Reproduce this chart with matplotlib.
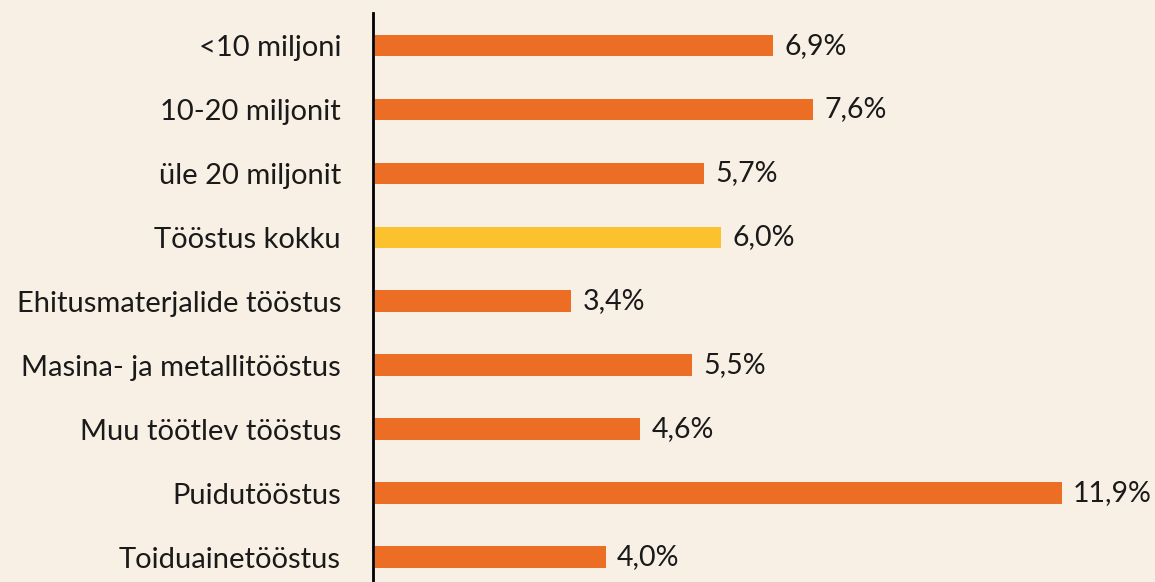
import matplotlib.pyplot as plt

categories = ["<10 miljoni", "10-20 miljonit", "üle 20 miljonit", "Tööstus kokku",
              "Ehitusmaterjalide tööstus", "Masina- ja metallitööstus",
              "Muu töötlev tööstus", "Puidutööstus", "Toiduainetööstus"]
values = [6.9, 7.6, 5.7, 6.0, 3.4, 5.5, 4.6, 11.9, 4.0]
highlight = "Tööstus kokku"

bg = "#F8EFE5"
orange = "#EC6E25"
yellow = "#FBC22E"

plt.rcParams['font.family'] = ['Lato', 'DejaVu Sans']

fig = plt.figure(figsize=(11.55, 5.82), dpi=100, facecolor=bg)
ax = fig.add_axes([373 / 1155, 0, 1 - 373 / 1155, 1 - 13 / 582])
ax.set_facecolor(bg)

n = len(categories)
ypos = [n - 1 - i for i in range(n)]
colors = [yellow if c == highlight else orange for c in categories]
ax.barh(ypos, values, height=0.34, color=colors, left=0.03)

for y, v in zip(ypos, values):
    ax.text(v + 0.03 + 0.2, y, f"{v:.1f}%".replace(".", ","), va="center", ha="left",
            fontsize=20.5, color="#1a1a1a")

ax.set_yticks(ypos)
ax.set_yticklabels(categories, fontsize=21, color="#1a1a1a")
ax.tick_params(axis="y", length=0, pad=23)
ax.set_xticks([])
ax.set_xlim(0, 13.55)
ax.set_ylim(-0.39, n - 1 + 0.51)
for s in ["top", "right", "bottom"]:
    ax.spines[s].set_visible(False)
ax.spines["left"].set_linewidth(2)
ax.spines["left"].set_color("black")

fig.savefig("out.png", dpi=100, facecolor=bg)
